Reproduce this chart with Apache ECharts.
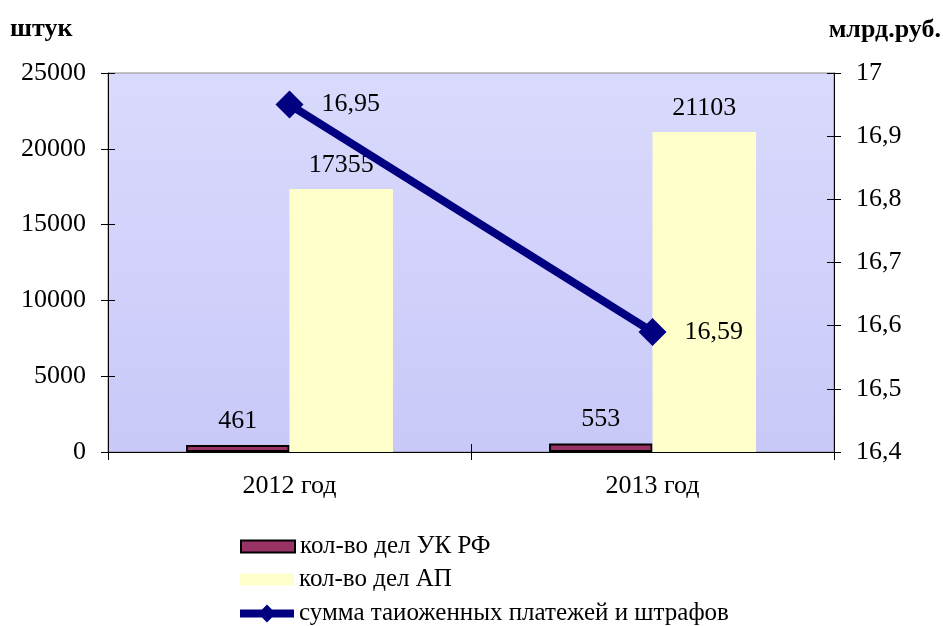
<!DOCTYPE html>
<html>
<head>
<meta charset="utf-8">
<script src="https://cdn.jsdelivr.net/npm/echarts@6/dist/echarts.min.js"></script>
<style>
  html, body { margin: 0; padding: 0; background: #fff; }
  #chart { width: 943px; height: 626px; }
</style>
</head>
<body>
<div id="chart"></div>
<script>
// Years on the category axis
const categories = ['2012 год', '2013 год'];
// Number of criminal cases (штук)
const casesUK = [461, 553];
// Number of administrative cases (штук)
const casesAP = [17355, 21103];
// Customs payments and fines, billion rubles
const paymentsSum = [16.95, 16.59];

const seriesNames = ['кол-во дел УК РФ', 'кол-во дел АП', 'сумма таиоженных платежей и штрафов'];
const leftTitle = 'штук';
const rightTitle = 'млрд.руб.';

const FONT = '"Liberation Serif", "Times New Roman", serif';
const FS = 26;
const fmtComma = v => String(Math.round(v * 100) / 100).replace('.', ',');

// Legend icons: flat rectangle for bars, thick line with a diamond for the line
const ICON_RECT = 'path://M0,0H54V12H0Z';
const ICON_LINE = 'path://M0,5H22L27,0L32,5H54V13H32L27,18L22,13H0Z';

const chart = echarts.init(document.getElementById('chart'), null, { renderer: 'canvas' });

const baseYAxisLeft = {
  type: 'value', position: 'left', min: 0, max: 25000, interval: 5000,
  axisLine: { show: true, lineStyle: { color: '#000', width: 1 } },
  splitLine: { show: false }
};
const baseYAxisRight = {
  type: 'value', position: 'right', min: 16.4, max: 17, interval: 0.1,
  axisLine: { show: true, lineStyle: { color: '#000', width: 1 } },
  splitLine: { show: false }
};

// One legend block per row, stacked below the plot
const legendRow = (name, icon, top) => ({
  orient: 'vertical', left: 240, top: top, padding: 0,
  itemWidth: 54, itemHeight: 18, itemGap: 0,
  symbolKeepAspect: true,
  textStyle: { fontFamily: FONT, fontSize: 25, color: '#000' },
  data: [{ name: name, icon: icon }]
});

chart.setOption({
  animation: false,
  textStyle: { fontFamily: FONT },
  grid: {
    left: 108, right: 109, top: 73, bottom: 174,
    show: true, borderColor: '#8c8c8c', borderWidth: 1,
    backgroundColor: new echarts.graphic.LinearGradient(0, 0, 0, 1, [
      { offset: 0, color: '#dadafd' },
      { offset: 1, color: '#c9c9f9' }
    ])
  },
  graphic: [
    { type: 'text', left: 10, top: 16, style: { text: leftTitle, font: 'bold 26px ' + FONT, fill: '#000' } },
    { type: 'text', right: 2, top: 17, style: { text: rightTitle, font: 'bold 26px ' + FONT, fill: '#000' } }
  ],
  legend: [
    legendRow(seriesNames[0], ICON_RECT, 534),
    legendRow(seriesNames[1], ICON_RECT, 567),
    legendRow(seriesNames[2], ICON_LINE, 601)
  ],
  xAxis: [{
    type: 'category', data: categories,
    axisLine: { lineStyle: { color: '#000', width: 1 } },
    axisTick: { show: true, length: 8, lineStyle: { color: '#000' } },
    axisLabel: { fontFamily: FONT, fontSize: FS, color: '#000', margin: 21 }
  }, {
    type: 'category', data: categories, position: 'bottom', offset: 0,
    axisLine: { show: false },
    axisTick: { show: true, inside: true, length: 8, lineStyle: { color: '#000' } },
    axisLabel: { show: false }
  }],
  yAxis: [
    Object.assign({}, baseYAxisLeft, {
      axisTick: { show: true, length: 7, lineStyle: { color: '#000' } },
      axisLabel: { fontFamily: FONT, fontSize: FS, color: '#000', margin: 22, formatter: v => String(v) }
    }),
    Object.assign({}, baseYAxisRight, {
      axisTick: { show: true, length: 7, lineStyle: { color: '#000' } },
      axisLabel: { fontFamily: FONT, fontSize: FS, color: '#000', margin: 22, formatter: fmtComma }
    }),
    Object.assign({}, baseYAxisLeft, {
      axisLine: { show: false },
      axisTick: { show: true, inside: true, length: 7, lineStyle: { color: '#000' } },
      axisLabel: { show: false }
    }),
    Object.assign({}, baseYAxisRight, {
      axisLine: { show: false },
      axisTick: { show: true, inside: true, length: 7, lineStyle: { color: '#000' } },
      axisLabel: { show: false }
    })
  ],
  series: [
    {
      name: seriesNames[0], type: 'bar', yAxisIndex: 0, data: casesUK,
      barGap: '0%', barCategoryGap: '43%',
      itemStyle: { color: '#993366', borderColor: '#000', borderWidth: 2 },
      label: { show: true, position: 'top', distance: 11, fontFamily: FONT, fontSize: FS, color: '#000' }
    },
    {
      name: seriesNames[1], type: 'bar', yAxisIndex: 0, data: casesAP,
      barGap: '0%', barCategoryGap: '43%',
      itemStyle: { color: '#ffffcc' },
      label: { show: true, position: 'top', distance: 11, fontFamily: FONT, fontSize: FS, color: '#000' }
    },
    {
      name: seriesNames[2], type: 'line', yAxisIndex: 1, data: paymentsSum,
      symbol: 'diamond', symbolSize: 28,
      lineStyle: { color: '#000080', width: 8 },
      itemStyle: { color: '#000080' },
      label: {
        show: true, position: 'right', distance: 18,
        fontFamily: FONT, fontSize: FS, color: '#000',
        formatter: p => fmtComma(p.value)
      },
      z: 5
    }
  ]
});
</script>
</body>
</html>
